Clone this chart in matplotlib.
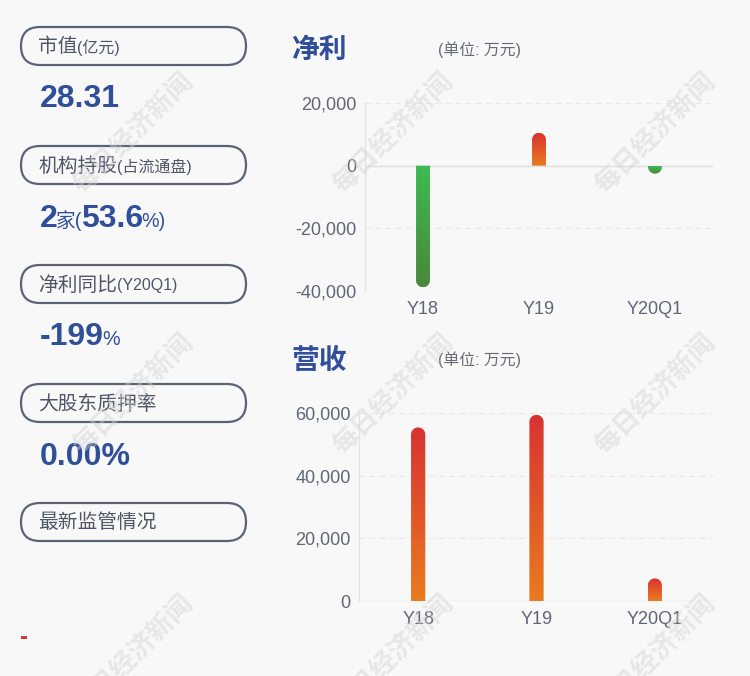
import numpy as np
import matplotlib
matplotlib.use('Agg')
import matplotlib.pyplot as plt
from matplotlib.path import Path
from matplotlib.patches import FancyBboxPatch, Rectangle
from matplotlib.colors import LinearSegmentedColormap
from matplotlib.ticker import FuncFormatter

# ---------------- data ----------------
categories = ['Y18', 'Y19', 'Y20Q1']
net_profit = [-38800, 10500, -2550]      # 万元
revenue = [55400, 59400, 7200]           # 万元
net_ticks = [-40000, -20000, 0, 20000]
rev_ticks = [0, 20000, 40000, 60000]

panel_labels = [('市值', '(亿元)'), ('机构持股', '(占流通盘)'), ('净利同比', '(Y20Q1)'),
                ('大股东质押率', ''), ('最新监管情况', '')]
market_cap = '28.31'
inst_count = '2'
inst_pct = '53.6'
net_yoy = '-199'
pledge = '0.00%'

# ---------------- style ----------------
plt.rcParams['font.family'] = ['Liberation Sans', 'Noto Sans CJK SC', 'DejaVu Sans']
BG = '#f8f8f8'
BLUE = '#2f4f9b'
LABEL = '#4f5665'
TICK = '#5f6676'
W, H = 750, 676

fig = plt.figure(figsize=(W / 100, H / 100), dpi=100, facecolor=BG)
bg = fig.add_axes([0, 0, 1, 1], zorder=0)
bg.set_xlim(0, W)
bg.set_ylim(H, 0)
bg.axis('off')
bg.set_facecolor(BG)

# ---------------- left panel ----------------
box_tops = [27, 146, 265, 384, 503]
for top, (main, sub) in zip(box_tops, panel_labels):
    bg.add_patch(FancyBboxPatch((21, top), 225, 38,
                                boxstyle='round,pad=0,rounding_size=19',
                                facecolor='none', edgecolor='#5a6476', lw=1.6))
    t = bg.text(38, top + 20, main, fontsize=14.2, color=LABEL, va='center', ha='left',
                family=['Noto Sans CJK SC'])
    if sub:
        fig.canvas.draw()
        r = fig.canvas.get_renderer()
        bb = t.get_window_extent(r)
        x1 = bg.transData.inverted().transform((bb.x1, bb.y0))[0]
        bg.text(x1, top + 20.5, sub, fontsize=11.5, color=LABEL, va='center', ha='left',
                family=['Liberation Sans', 'Noto Sans CJK SC'])


def run_text(x, y, parts):
    """Draw consecutive text runs on a shared baseline."""
    for text, size, bold in parts:
        t = bg.text(x, y, text, fontsize=size, color=BLUE, va='baseline', ha='left',
                    fontweight='bold' if bold else 'normal',
                    family=['Liberation Sans', 'Noto Sans CJK SC'])
        fig.canvas.draw()
        bb = t.get_window_extent(fig.canvas.get_renderer())
        x = bg.transData.inverted().transform((bb.x1, bb.y0))[0] - 1.5


BIG, SMALL = 23, 14.2
run_text(40, 107, [(market_cap, BIG, True)])
run_text(40, 227, [(inst_count, BIG, True), ('家(', SMALL, False), (inst_pct, BIG, True),
                   ('%)', SMALL, False)])
run_text(40, 345, [(net_yoy, BIG, True), ('%', SMALL, False)])
run_text(40, 465, [(pledge, BIG, True)])
bg.add_patch(Rectangle((21, 636), 6, 3, color='#e03535', lw=0))

# ---------------- charts ----------------
def px_axes(x0, y0, x1, y1):
    return fig.add_axes([x0 / W, 1 - y1 / H, (x1 - x0) / W, (y1 - y0) / H], zorder=1)


def style_axes(ax, ticks):
    ax.set_facecolor('none')
    ax.set_xlim(-0.5, len(categories) - 0.5)
    ax.set_ylim(ticks[0], ticks[-1])
    ax.set_yticks(ticks)
    ax.yaxis.set_major_formatter(FuncFormatter(lambda v, p: f'{int(v):,}'))
    ax.set_xticks(range(len(categories)))
    ax.set_xticklabels(categories)
    for s in ['top', 'right', 'bottom']:
        ax.spines[s].set_visible(False)
    ax.spines['left'].set_color('#e3e3e3')
    ax.spines['left'].set_linewidth(0.8)
    ax.tick_params(axis='y', length=0, pad=6, labelsize=13, labelcolor=TICK)
    ax.tick_params(axis='x', length=0, pad=7.5, labelsize=13, labelcolor=TICK)
    for t in ticks:
        if t == 0:
            ax.axhline(0, color='#dedede', lw=1.0, zorder=1)
        else:
            ax.axhline(t, color='#e8e8e8', lw=0.8, ls=(0, (5, 4)), zorder=1)


def grad_bars(ax, values, ticks):
    bars = ax.bar(range(len(values)), values, width=0.12, color='none', lw=0, zorder=2)
    ax.set_xlim(-0.5, len(values) - 0.5)
    ax.set_ylim(ticks[0], ticks[-1])
    grad = np.linspace(0, 1, 256).reshape(-1, 1)
    for rect, v in zip(bars.patches, values):
        x0, w = rect.get_x(), rect.get_width()
        if v >= 0:
            c_base, c_end = '#e97b1f', '#d93232'
        else:
            c_base, c_end = '#3dbb52', '#4a873a'
        T = ax.transData
        (X0, Yb), (X1, Ye) = T.transform([(x0, 0), (x0 + w, v)])
        r = (X1 - X0) / 2
        cx = (X0 + X1) / 2
        s = 1 if Ye > Yb else -1
        yc = Ye - s * r
        ang = np.linspace(np.pi, 0, 40)
        arc = np.column_stack([cx + r * np.cos(ang), yc + s * r * np.sin(ang)])
        verts = np.vstack([[X0, Yb], arc, [X1, Yb], [X0, Yb]])
        va = ax.transAxes.inverted().transform(verts)
        path = Path(va, closed=True)
        cmap = LinearSegmentedColormap.from_list('g', [c_base, c_end])
        img = grad if v >= 0 else grad[::-1]
        im = ax.imshow(img, extent=[x0, x0 + w, min(0, v), max(0, v)], origin='lower',
                       cmap=cmap, aspect='auto', zorder=3, interpolation='bilinear')
        im.set_clip_path(path, ax.transAxes)
    ax.set_xlim(-0.5, len(values) - 0.5)
    ax.set_ylim(ticks[0], ticks[-1])
    ax.set_aspect('auto')


ax1 = px_axes(365, 103, 713, 291)
style_axes(ax1, net_ticks)
grad_bars(ax1, net_profit, net_ticks)

ax2 = px_axes(359, 413, 714, 601)
style_axes(ax2, rev_ticks)
grad_bars(ax2, revenue, rev_ticks)

# titles
bg.text(291, 50, '净利', fontsize=20, fontweight='bold', color=BLUE, va='center', ha='left',
        family=['Noto Sans CJK SC'])
bg.text(438, 50, '(单位: 万元)', fontsize=11.4, color='#666b75', va='center', ha='left')
bg.text(291, 361, '营收', fontsize=20, fontweight='bold', color=BLUE, va='center', ha='left',
        family=['Noto Sans CJK SC'])
bg.text(438, 360, '(单位: 万元)', fontsize=11.4, color='#666b75', va='center', ha='left')

# watermarks
for wy in [133, 394, 655]:
    for wx in [133, 393, 655]:
        fig.text(wx / W, 1 - wy / H, '每日经济新闻', rotation=45, ha='center', va='center',
                 fontsize=19, fontweight='bold', color='#d2d2d2', alpha=0.45,
                 family=['Noto Sans CJK SC'], zorder=5)

fig.savefig('out.png', dpi=100, facecolor=BG)
